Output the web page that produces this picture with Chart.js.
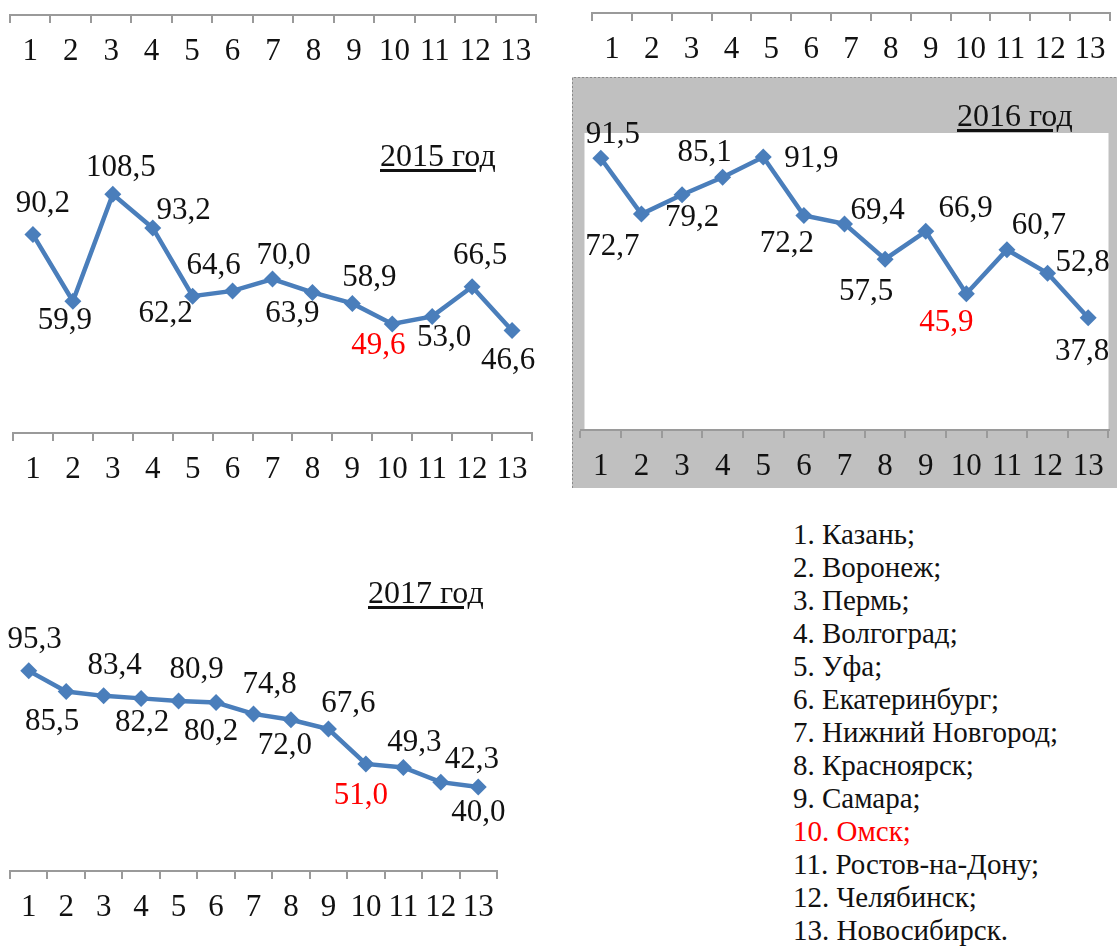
<!DOCTYPE html>
<html lang="ru">
<head>
<meta charset="utf-8">
<title>Показатели городов, 2015–2017</title>
<script src="https://cdn.jsdelivr.net/npm/chart.js@4.4.1/dist/chart.umd.min.js"></script>
<style>
  html, body { margin: 0; padding: 0; background: #fff; }
  body { width: 1117px; height: 946px; position: relative; overflow: hidden;
         font-family: "Liberation Serif", "Times New Roman", serif; color: #111; }
  .box { position: absolute; }
  .box canvas { display: block; }
  .title { position: absolute; font-size: 32px; line-height: 32px; text-decoration: underline;
           text-underline-offset: 3px; white-space: nowrap; }
  #cities { position: absolute; left: 793px; top: 518px; margin: 0; padding: 0; list-style: none;
            font-size: 29px; line-height: 33px; }
  #cities .hl { color: #ff0000; }
</style>
</head>
<body>

<div class="box" style="left:0;top:0"><canvas id="stripLeft" width="560" height="75"></canvas></div>
<div class="box" style="left:572px;top:0"><canvas id="stripRight" width="545" height="75"></canvas></div>

<div class="box" style="left:0;top:80px"><canvas id="chart2015" width="560" height="410"></canvas></div>
<div class="box" style="left:572px;top:77px"><canvas id="chart2016" width="545" height="411"></canvas></div>
<div class="box" style="left:0;top:560px"><canvas id="chart2017" width="560" height="380"></canvas></div>

<div class="title" style="left:380px;top:139px">2015 год</div>
<div class="title" style="left:957px;top:99px">2016 год</div>
<div class="title" style="left:368px;top:576px">2017 год</div>

<ul id="cities"></ul>

<script>
// categories: city numbers on the axis, names in the list
const cityNumbers = ['1', '2', '3', '4', '5', '6', '7', '8', '9', '10', '11', '12', '13'];
const cityNames = ['Казань', 'Воронеж', 'Пермь', 'Волгоград', 'Уфа', 'Екатеринбург',
    'Нижний Новгород', 'Красноярск', 'Самара', 'Омск', 'Ростов-на-Дону', 'Челябинск', 'Новосибирск'];
const highlightCity = 'Омск';

// values
const values2015 = [90.2, 59.9, 108.5, 93.2, 62.2, 64.6, 70.0, 63.9, 58.9, 49.6, 53.0, 66.5, 46.6];
const values2016 = [91.5, 72.7, 79.2, 85.1, 91.9, 72.2, 69.4, 57.5, 66.9, 45.9, 60.7, 52.8, 37.8];
const values2017 = [95.3, 85.5, 83.4, 82.2, 80.9, 80.2, 74.8, 72.0, 67.6, 51.0, 49.3, 42.3, 40.0];

// where each value label sits relative to its point (dx, dy in px)
const labelShift2015 = [[10, -31], [-8, 20], [8, -26], [31, -17], [-27, 18], [-19, -25], [11, -23],
    [-20, 21], [17, -26], [-14, 22], [12, 21], [8, -31], [-4, 30]];
const labelShift2016 = [[12, -23], [-29, 33], [10, 23], [-18, -24], [48, 2], [-17, 28], [33, -13],
    [-19, 33], [40, -22], [-20, 29], [32, -24], [35, -10], [-6, 34]];
const labelShift2017 = [[6, -31], [-14, 30], [11, -30], [1, 24], [18, -31], [-5, 29], [16, -29],
    [-6, 26], [20, -25], [-5, 32], [11, -25], [31, -22], [0, 26]];

const FONT = '"Liberation Serif", "Times New Roman", serif';
const NUM_SIZE = 31;
const LINE_BLUE = '#4a7ebb';
const AXIS_GREY = '#9a9a9a';

// list of cities under the charts
const list = document.getElementById('cities');
cityNames.forEach(function (name, i) {
    const li = document.createElement('li');
    li.textContent = cityNumbers[i] + '. ' + name + (i === cityNames.length - 1 ? '.' : ';');
    if (name === highlightCity) li.className = 'hl';
    list.appendChild(li);
});

// grey frame with white plot area (only the 2016 chart has it)
const framePlugin = {
    id: 'frame',
    beforeDraw(chart, args, opts) {
        if (!opts.fill) return;
        const ctx = chart.ctx;
        const a = chart.chartArea;
        ctx.save();
        ctx.fillStyle = opts.fill;
        ctx.fillRect(0, 0, chart.width, chart.height);
        ctx.fillStyle = '#ffffff';
        ctx.fillRect(a.left + 4, a.top, a.right - a.left - 4, a.bottom - a.top);
        ctx.strokeStyle = '#8a8a8a';
        ctx.lineWidth = 1;
        ctx.setLineDash([2, 2]);
        ctx.beginPath();
        ctx.moveTo(0.5, chart.height);
        ctx.lineTo(0.5, 0.5);
        ctx.lineTo(chart.width, 0.5);
        ctx.stroke();
        ctx.restore();
    }
};

// value labels with comma decimals
const valueLabelPlugin = {
    id: 'valueLabels',
    afterDatasetsDraw(chart, args, opts) {
        if (!opts.shifts) return;
        const ctx = chart.ctx;
        const ds = chart.data.datasets[0];
        const meta = chart.getDatasetMeta(0);
        ctx.save();
        ctx.font = NUM_SIZE + 'px ' + FONT;
        ctx.textAlign = 'center';
        ctx.textBaseline = 'middle';
        meta.data.forEach(function (pt, i) {
            const s = opts.shifts[i];
            ctx.fillStyle = cityNames[i] === highlightCity ? '#ff0000' : '#111111';
            ctx.fillText(ds.data[i].toFixed(1).replace('.', ','), pt.x + s[0], pt.y + s[1]);
        });
        ctx.restore();
    }
};

function xAxis(axisHeight) {
    return {
        offset: true,
        grid: { offset: true, drawOnChartArea: false, drawTicks: true, tickLength: 8,
                color: AXIS_GREY, lineWidth: 2 },
        border: { color: AXIS_GREY, width: 2 },
        ticks: { color: '#111111', font: { family: FONT, size: NUM_SIZE }, padding: 10,
                 maxRotation: 0, autoSkip: false },
        afterFit: function (scale) { scale.height = axisHeight; }
    };
}

function makeChart(id, values, shifts, pad, axisHeight, yMax, fill) {
    return new Chart(document.getElementById(id), {
        type: 'line',
        data: {
            labels: cityNumbers,
            datasets: values ? [{
                data: values,
                borderColor: LINE_BLUE,
                backgroundColor: LINE_BLUE,
                borderWidth: 4.5,
                pointStyle: 'rectRot',
                pointRadius: 8.5,
                pointBorderWidth: 0,
                pointBackgroundColor: LINE_BLUE,
                tension: 0,
                clip: false
            }] : []
        },
        options: {
            responsive: false,
            animation: false,
            events: [],
            layout: { padding: pad },
            plugins: {
                legend: { display: false },
                tooltip: { enabled: false },
                title: { display: false },
                frame: { fill: fill || null },
                valueLabels: { shifts: shifts || null }
            },
            scales: {
                x: xAxis(axisHeight),
                y: { display: false, min: 0, max: yMax }
            }
        },
        plugins: [framePlugin, valueLabelPlugin]
    });
}

// axis strips of the charts cut off above
makeChart('stripLeft', null, null, { left: 10, right: 24, top: 0, bottom: 0 }, 60, 100);
makeChart('stripRight', null, null, { left: 20, right: 7, top: 0, bottom: 0 }, 62, 100);

makeChart('chart2015', values2015, labelShift2015, { left: 13, right: 28, top: 89, bottom: 0 }, 57, 120);
makeChart('chart2016', values2016, labelShift2016, { left: 5, right: 2, top: 56, bottom: 0 }, 58, 100, '#c0c0c0');
makeChart('chart2017', values2017, labelShift2017, { left: 10, right: 63, top: 59, bottom: 0 }, 69, 120);
</script>
</body>
</html>
